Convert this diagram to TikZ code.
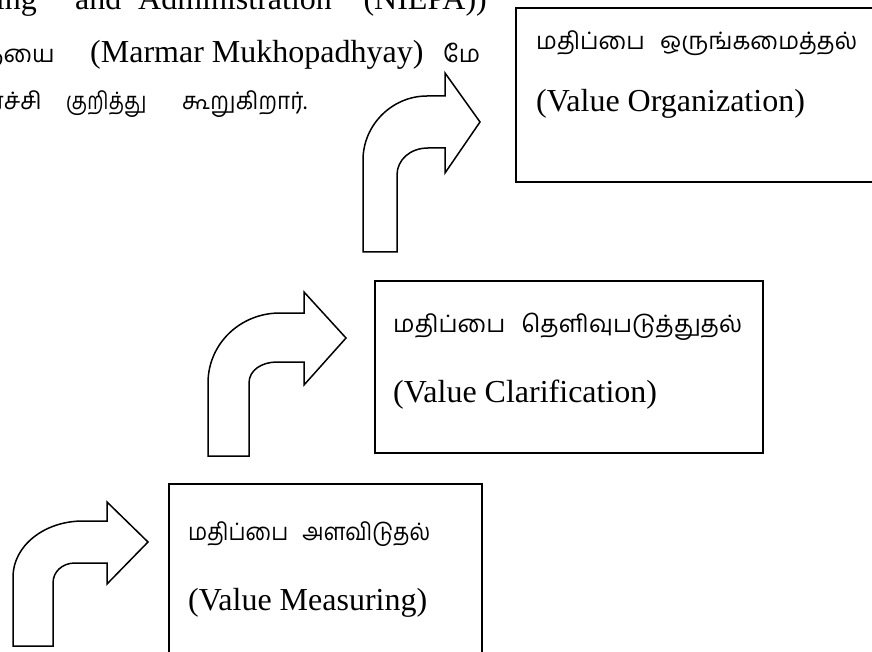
\documentclass[tikz,border=0pt]{standalone}
\usepackage{graphicx}
\usepackage{fontspec}
\setmainfont{Liberation Serif}
\newfontfamily\tamil[Script=Tamil]{Hind Madurai}
\newcommand{\tamfit}[2]{\resizebox{#1}{\height}{#2}}
\begin{document}
\begin{tikzpicture}[x=1pt,y=-1pt,
  en/.style={font=\fontsize{32}{38}\selectfont, inner sep=0pt, anchor=base west},
  ta/.style={font=\tamil\fontsize{24}{28}\selectfont, inner sep=0pt, anchor=base west},
  box/.style={draw, line width=2pt, inner sep=0pt, anchor=north west},
  barrow/.style={draw, line width=1.5pt, line join=miter, fill=white}]
\useasboundingbox (0,0) rectangle (872,652);
\clip (0,0) rectangle (872,652);

% boxes
\node[box, minimum width=380pt, minimum height=174pt] (org) at (515,7) {};
\node[box, minimum width=388pt, minimum height=172pt] (cla) at (374,280) {};
\node[box, minimum width=313pt, minimum height=200pt] (mea) at (168,483) {};

% box texts
\node[ta] (orgT) at (536,50) {\tamfit{321pt}{மதிப்பை\hspace{10pt} ஒருங்கமைத்தல்}};
\node[en] (orgE) at (536,112) {(Value Organization)};
\node[ta] (claT) at (393,332) {\tamfit{349pt}{மதிப்பை\hspace{10pt} தெளிவுபடுத்துதல்}};
\node[en] (claE) at (393,402) {(Value Clarification)};
\node[ta] (meaT) at (188,540) {\tamfit{242pt}{மதிப்பை\hspace{10pt} அளவிடுதல்}};
\node[en] (meaE) at (188,610) {(Value Measuring)};

% paragraph text at top left
\node[en, anchor=base east] (p1a) at (37,10) {ing};
\node[en] (p1b) at (75,10) {and};
\node[en] (p1c) at (138,10) {Administration};
\node[en, anchor=base east] (p1d) at (487,10) {(NIEPA))};
\node[ta, anchor=base east] (p2a) at (55,63) {நயை};
\node[en] (p2b) at (90,63) {(Marmar Mukhopadhyay)};
\node[ta] (p2c) at (443,63) {\tamfit{37pt}{மே}};
\node[ta, anchor=base east] (p3a) at (42,110) {ர்ச்சி};
\node[ta] (p3b) at (66,110) {\tamfit{80pt}{குறித்து}};
\node[ta] (p3c) at (182,110) {\tamfit{125pt}{கூறுகிறார்.}};

% curved block arrows
\draw[barrow] (363,252) -- (363,160) .. controls (363,125) and (392,96) .. (427,96)
  -- (445,96) -- (445,73) -- (480,122) -- (445,173) -- (445,148) -- (428,148)
  .. controls (410,148) and (397,160) .. (397,175) -- (397,252) -- cycle;
\draw[barrow] (208,456) -- (208,383) .. controls (208,344) and (240,313) .. (280,313)
  -- (304,313) -- (304,292) -- (346,338) -- (304,385) -- (304,362) -- (277,362)
  .. controls (262,362) and (249,370) .. (249,383) -- (249,456) -- cycle;
\draw[barrow] (13,646) -- (13,577) .. controls (13,546) and (44,521) .. (83,521)
  -- (107,521) -- (107,502) -- (148,542) -- (107,584) -- (107,563) -- (75,563)
  .. controls (62,563) and (53,572) .. (53,583) -- (53,646) -- cycle;
\end{tikzpicture}
\end{document}
